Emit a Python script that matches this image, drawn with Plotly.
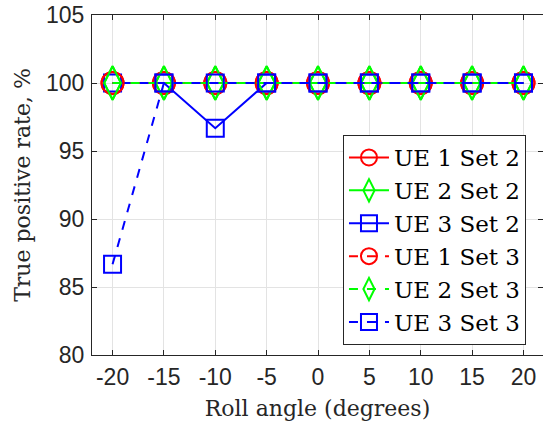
import plotly.graph_objects as go

roll = [-20, -15, -10, -5, 0, 5, 10, 15, 20]
ue1_set2 = [100, 100, 100, 100, 100, 100, 100, 100, 100]
ue2_set2 = [100, 100, 100, 100, 100, 100, 100, 100, 100]
ue3_set2 = [100, 100, 96.67, 100, 100, 100, 100, 100, 100]
ue1_set3 = [100, 100, 100, 100, 100, 100, 100, 100, 100]
ue2_set3 = [100, 100, 100, 100, 100, 100, 100, 100, 100]
ue3_set3 = [86.67, 100, 100, 100, 100, 100, 100, 100, 100]

series = [
    ("UE 1 Set 2", ue1_set2, "#ff0000", "circle-open", 22, "solid"),
    ("UE 2 Set 2", ue2_set2, "#00ff00", "diamond-tall-open", 24, "solid"),
    ("UE 3 Set 2", ue3_set2, "#0000ff", "square-open", 17, "solid"),
    ("UE 1 Set 3", ue1_set3, "#ff0000", "circle-open", 22, "dash"),
    ("UE 2 Set 3", ue2_set3, "#00ff00", "diamond-tall-open", 24, "dash"),
    ("UE 3 Set 3", ue3_set3, "#0000ff", "square-open", 17, "dash"),
]

fig = go.Figure()
for name, vals, color, sym, size, dash in series:
    fig.add_trace(go.Scatter(
        x=roll, y=vals, name=name, mode="lines+markers",
        line=dict(color=color, width=2, dash=dash),
        marker=dict(symbol=sym, size=size, color=color, line=dict(width=2, color=color)),
    ))

axis_common = dict(
    showline=True, linecolor="#262626", linewidth=1, mirror="ticks",
    ticks="inside", ticklen=5, tickcolor="#262626",
    showgrid=True, gridcolor="#e3e3e3", gridwidth=1, zeroline=False,
    automargin=False, ticklabeloverflow="allow",
    tickfont=dict(family="Liberation Sans, Arial", size=23, color="#262626"),
)

title_font = dict(family="DejaVu Serif", size=22, color="#262626")

fig.update_layout(
    width=543, height=428,
    margin=dict(l=92, r=0, t=15, b=73),
    paper_bgcolor="white", plot_bgcolor="white",
    xaxis=dict(range=[-22, 21.9], tickvals=roll, ticktext=[str(v) for v in roll],
               ticklabelstandoff=1,
               title=dict(text="Roll angle (degrees)", standoff=12, font=title_font),
               **axis_common),
    yaxis=dict(range=[80, 105], tickvals=[80, 85, 90, 95, 100, 105],
               ticklabelstandoff=2,
               title=dict(text="True positive rate, %", standoff=9, font=title_font),
               **axis_common),
    legend=dict(x=0.5565, y=0.647, xanchor="left", yanchor="top",
                bgcolor="white", bordercolor="#262626", borderwidth=1,
                font=dict(family="DejaVu Serif", size=23, color="black"),
                tracegroupgap=0, itemwidth=40),
    showlegend=True,
)

# remove the browser's default 8px body margin so the figure fills the window exactly
fig.write_html("out.html", config={"displayModeBar": False},
               post_script="document.body.style.margin='0px';")
